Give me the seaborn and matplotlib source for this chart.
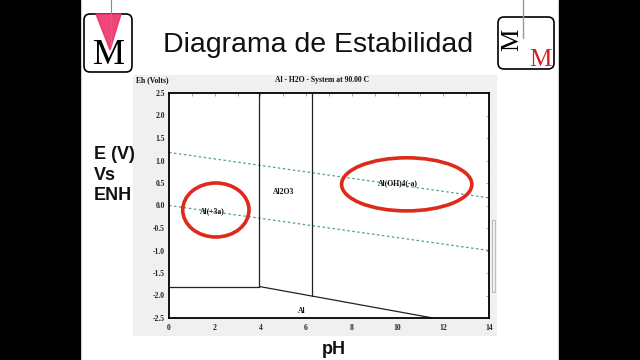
import matplotlib
matplotlib.use("Agg")
import matplotlib.pyplot as plt
from matplotlib.patches import Rectangle, FancyBboxPatch, Ellipse, Polygon
import seaborn as sns
import pandas as pd
import numpy as np

sns.set_theme(style="white")
plt.rcParams['font.family'] = ['DejaVu Sans']

# ---- data ----
ph_water = [0, 14]
e_o2 = [1.18, 0.17]
e_h2 = [0.0, -1.0]

bound_ph = [[0, 3.95], [3.95, 3.95], [6.25, 6.25], [3.95, 11.55]]
bound_e = [[-1.80, -1.80], [-1.80, 2.5], [-2.01, 2.5], [-1.80, -2.5]]

species = ["Al(+3a)", "Al2O3", "Al(OH)4(-a)", "Al"]
species_ph = [1.9, 5.0, 10.0, 5.8]
species_e = [-0.12, 0.29, 0.5, -2.35]

circle_ph = [2.05, 10.4]
circle_e = [-0.10, 0.47]
circle_w = [2.9, 5.7]
circle_h = [1.2, 1.18]

x_ticks = [0, 2, 4, 6, 8, 10, 12, 14]
y_ticks = [2.5, 2.0, 1.5, 1.0, 0.5, 0.0, -0.5, -1.0, -1.5, -2.0, -2.5]

W, H = 640, 360
fig = plt.figure(figsize=(6.4, 3.6), dpi=100)
fig.patch.set_facecolor("white")

def fx(x):
    return x / W
def fy(y):
    return 1 - y / H

# black side bars
fig.patches.append(Rectangle((0, 0), fx(80), 1, transform=fig.transFigure, color="black", zorder=-5))
fig.patches.append(Rectangle((fx(559), 0), 1 - fx(559), 1, transform=fig.transFigure, color="black", zorder=-5))
# grey chart panel
fig.patches.append(Rectangle((fx(133), fy(335)), fx(496) - fx(133), fy(75) - fy(335),
                             transform=fig.transFigure, color="#f0f0f0", zorder=-5))
fig.patches.append(Rectangle((fx(492), fy(292)), fx(3), fy(220) - fy(292),
                             transform=fig.transFigure, facecolor="none", edgecolor="#b0b0b0", lw=0.6, zorder=-4))

# titles
fig.text(fx(318), fy(45), "Diagrama de Estabilidad", ha="center", va="center", fontsize=20.5,
         family="Liberation Sans", color="#111111")
fig.text(fx(94), fy(175), "E (V)\nVs\nENH", ha="left", va="center", fontsize=13,
         family="Liberation Sans", fontweight="bold", linespacing=1.28, color="#111111")
fig.text(fx(334), fy(349), "pH", ha="center", va="center", fontsize=13,
         family="Liberation Sans", fontweight="bold", color="#111111")

# logos
lax = fig.add_axes([fx(80), fy(78), fx(140) - fx(80), fy(0) - fy(78)])
lax.set_xlim(80, 140); lax.set_ylim(78, 0); lax.axis("off")
lax.add_patch(FancyBboxPatch((84, 14), 48, 58, boxstyle="round,pad=0,rounding_size=6",
                             facecolor="white", edgecolor="black", lw=1.2))
lax.text(109, 55, "M", ha="center", va="center", fontsize=26, family="Liberation Serif", color="black")
lax.add_patch(Polygon([(96, 14), (121, 14), (110, 50)], closed=True, color="#f0306a", alpha=0.9))
lax.plot([111, 111], [0, 46], color="#888888", lw=0.8)

rax = fig.add_axes([fx(490), fy(78), fx(559) - fx(490), fy(0) - fy(78)])
rax.set_xlim(490, 559); rax.set_ylim(78, 0); rax.axis("off")
rax.add_patch(FancyBboxPatch((498, 17), 56, 52, boxstyle="round,pad=0,rounding_size=6",
                             facecolor="white", edgecolor="black", lw=1.2))
rax.plot([523, 523], [0, 38], color="#999999", lw=1.0)
rax.text(512, 40, "M", ha="center", va="center", fontsize=18, family="Liberation Serif",
         color="black", rotation=90)
rax.text(540, 60, "M", ha="center", va="center", fontsize=18, family="Liberation Serif", color="#d42020")

# main axes
ax = fig.add_axes([fx(169), fy(318), fx(489) - fx(169), fy(93) - fy(318)])
ax.set_zorder(3)
ax.set_facecolor("white")

df_w = pd.DataFrame({"pH": ph_water * 2, "E": e_o2 + e_h2, "line": ["O2"] * 2 + ["H2"] * 2})
sns.lineplot(data=df_w, x="pH", y="E", units="line", estimator=None, ax=ax,
             color="#5a9a9a", lw=0.9, linestyle=(0, (2, 2)), sort=False)

rows = []
for i, (p, e) in enumerate(zip(bound_ph, bound_e)):
    for pp, ee in zip(p, e):
        rows.append({"pH": pp, "E": ee, "seg": i})
df_b = pd.DataFrame(rows)
sns.lineplot(data=df_b, x="pH", y="E", units="seg", estimator=None, ax=ax,
             color="#222222", lw=0.9, sort=False)

for s, p, e in zip(species, species_ph, species_e):
    ax.text(p, e, s, ha="center", va="center", fontsize=5.5, family="Liberation Serif",
            fontweight="bold", color="#111111")

for p, e, w, h in zip(circle_ph, circle_e, circle_w, circle_h):
    ax.add_patch(Ellipse((p, e), w, h, facecolor="none", edgecolor="#dd2a1b", lw=2.6, zorder=5))

ax.set_xlim(0, 14)
ax.set_ylim(-2.5, 2.5)
ax.set_xticks(x_ticks)
ax.set_yticks(y_ticks)
ax.set_xticks(np.arange(0, 15, 1), minor=True)
ax.set_xticklabels([str(t) for t in x_ticks], fontsize=5.5, family="Liberation Serif", fontweight="bold")
ax.set_yticklabels([f"{t:.1f}" for t in y_ticks], fontsize=5.5, family="Liberation Serif", fontweight="bold")
ax.tick_params(axis="both", which="both", direction="in", top=True, right=True, length=2.5,
               width=0.5, color="#888888", pad=3)
ax.tick_params(axis="x", which="major", pad=4)
ax.set_xlabel("")
ax.set_ylabel("")
for sp in ax.spines.values():
    sp.set_color("black")
    sp.set_linewidth(1.3)
    sp.set_visible(True)

fig.text(fx(136), fy(80), "Eh (Volts)", ha="left", va="center", fontsize=5.5,
         family="Liberation Serif", fontweight="bold", color="#111111")
fig.text(fx(322), fy(80), "Al - H2O - System at 90.00 C", ha="center", va="center", fontsize=5.5,
         family="Liberation Serif", fontweight="bold", color="#111111")

fig.savefig("out.png", dpi=100)
